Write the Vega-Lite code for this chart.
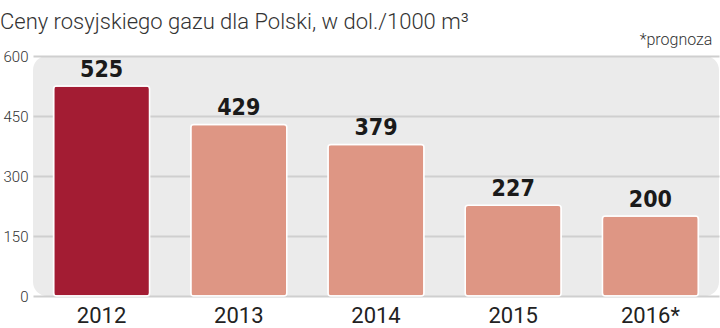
{
  "$schema": "https://vega.github.io/schema/vega-lite/v6.json",
  "autosize": "none",
  "width": 686,
  "height": 240,
  "padding": {"left": 33, "top": 56, "right": 1, "bottom": 32},
  "background": "white",
  "config": {
    "view": {"fill": "#ebebeb", "stroke": null, "cornerRadius": 14},
    "font": "Roboto"
  },
  "title": {
    "text": "Ceny rosyjskiego gazu dla Polski, w dol./1000 m³",
    "anchor": "start",
    "frame": "group",
    "dx": -33,
    "dy": 2,
    "offset": 0,
    "font": "Roboto",
    "fontSize": 22,
    "fontWeight": 300,
    "color": "#333333"
  },
  "data": {
    "values": [
      {"year": "2012", "price": 525, "kind": "actual2012"},
      {"year": "2013", "price": 429, "kind": "other"},
      {"year": "2014", "price": 379, "kind": "other"},
      {"year": "2015", "price": 227, "kind": "other"},
      {"year": "2016*", "price": 200, "kind": "other"}
    ]
  },
  "encoding": {
    "x": {
      "field": "year",
      "type": "nominal",
      "sort": null,
      "scale": {"paddingInner": 0.3, "paddingOuter": 0.15},
      "axis": {
        "title": null,
        "labelAngle": 0,
        "labelFontSize": 22,
        "labelColor": "#222222",
        "labelPadding": 9,
        "ticks": false,
        "domain": false,
        "labelFont": "Roboto"
      }
    },
    "y": {
      "field": "price",
      "type": "quantitative",
      "scale": {"domain": [0, 600], "nice": false},
      "axis": {
        "title": null,
        "values": [0, 150, 300, 450, 600],
        "labelFontSize": 15,
        "labelColor": "#333333",
        "labelPadding": 5,
        "ticks": false,
        "domain": false,
        "gridColor": "#cfcfcf",
        "gridWidth": 2,
        "labelFont": "Roboto",
        "labelFontWeight": 300
      }
    }
  },
  "layer": [
    {
      "mark": {"type": "bar", "cornerRadius": 3, "stroke": "white", "strokeWidth": 1.5},
      "encoding": {
        "color": {
          "field": "kind",
          "type": "nominal",
          "scale": {"domain": ["actual2012", "other"], "range": ["#a31c33", "#de9684"]},
          "legend": null
        }
      }
    },
    {
      "mark": {"type": "text", "baseline": "alphabetic", "dy": -9, "font": "DejaVu Sans Condensed", "fontWeight": "bold", "fontSize": 23, "color": "#1a1a1a"},
      "encoding": {"text": {"field": "price", "type": "quantitative"}}
    },
    {
      "data": {"values": [{"year": "2016*", "price": 600, "note": "*prognoza"}]},
      "mark": {"type": "text", "align": "right", "baseline": "alphabetic", "dy": -11, "dx": 62, "font": "Roboto", "fontSize": 16, "fontWeight": 300, "color": "#333333"},
      "encoding": {
        "text": {"field": "note", "type": "nominal"}
      }
    }
  ]
}
